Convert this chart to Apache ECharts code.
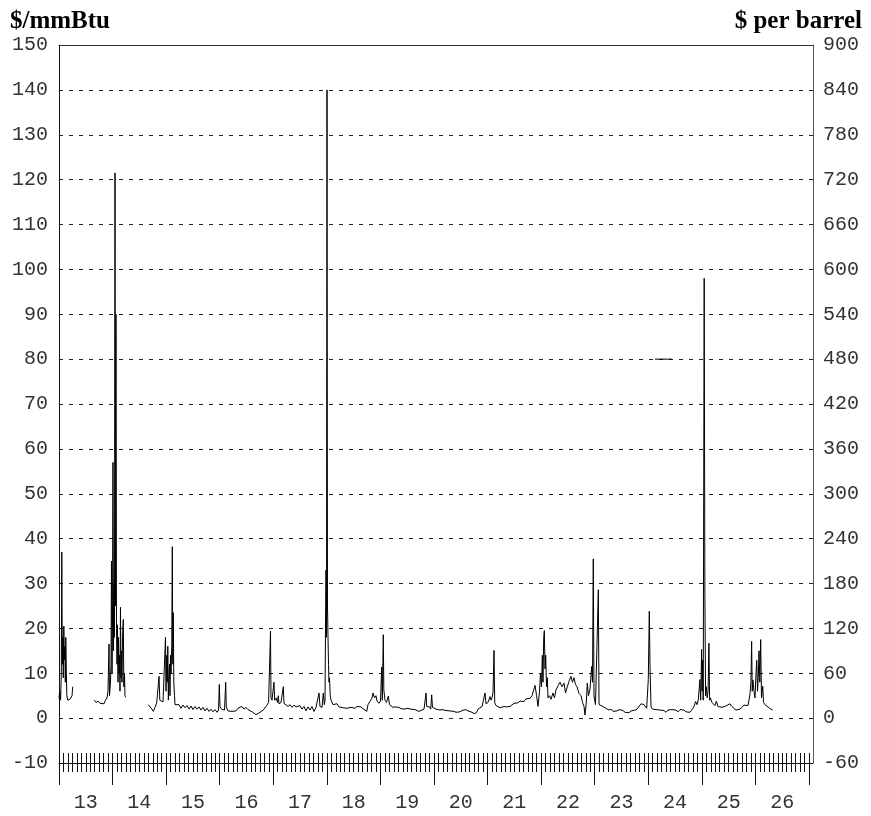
<!DOCTYPE html>
<html>
<head>
<meta charset="utf-8">
<script src="https://cdn.jsdelivr.net/npm/echarts@6/dist/echarts.min.js"></script>
<style>
html,body{margin:0;padding:0;background:#fff;}
#chart{width:871px;height:816px;}
</style>
</head>
<body>
<div id="chart"></div>
<script>
// Dates are decimal years; values in $/mmBtu
const seg2013a = [
  [2013.000,4.5],[2013.015,6],[2013.030,4],[2013.043,10],[2013.052,37],[2013.062,12],[2013.071,18],
  [2013.080,9],[2013.090,20.5],[2013.099,13],[2013.108,16],[2013.118,8],[2013.127,18],[2013.136,11],
  [2013.146,5],[2013.164,4],[2013.187,3.8],[2013.205,4.2],[2013.224,4.5],[2013.243,5],[2013.256,7]
];
const seg2013b = [
  [2013.659,4.0],[2013.690,3.5],[2013.728,3.8],[2013.765,3.3],[2013.802,3.6],[2013.840,3.2],[2013.868,4.0],
  [2013.896,4.5],[2013.914,6],[2013.933,16.5],[2013.942,5],[2013.961,8],[2013.970,12],[2013.979,35],
  [2013.989,10],[2013.998,20],[2014.007,57],[2014.017,15],[2014.026,30],[2014.035,18],[2014.045,121.5],
  [2014.054,25],[2014.063,90],[2014.073,20],[2014.082,12],[2014.091,20.8],[2014.101,8],[2014.110,18],
  [2014.119,10],[2014.129,14],[2014.138,6],[2014.147,24.7],[2014.157,9],[2014.166,15],[2014.175,8],
  [2014.185,18],[2014.200,22],[2014.209,7],[2014.222,10],[2014.231,5],[2014.244,4.6]
];
const y2014 = [
  [2014.666,3.0],[2014.698,2.5],[2014.735,2.0],[2014.759,1.5],[2014.791,2.4],[2014.823,3.4],[2014.847,3.8],
  [2014.866,9.3],[2014.881,4],[2014.903,3.7],[2014.940,3.6],[2014.968,4.0],[2014.987,18],[2014.996,6]
];
const y2015 = [
  [2015.011,14],[2015.020,8],[2015.030,16],[2015.040,4],[2015.052,10],[2015.062,12],[2015.071,5],
  [2015.080,14],[2015.090,10],[2015.103,16],[2015.114,38.2],[2015.123,12],[2015.132,23.5],[2015.142,8],
  [2015.155,5],[2015.164,3.0],[2015.201,2.6],[2015.239,3.0],[2015.276,2.2],[2015.313,2.9],[2015.351,2.3],
  [2015.388,2.8],[2015.425,2.0],[2015.463,2.7],[2015.500,1.9],[2015.537,2.6],[2015.575,2.0],[2015.612,2.5],
  [2015.649,1.8],[2015.687,2.4],[2015.724,1.6],[2015.761,2.2],[2015.799,1.5],[2015.836,2.0],[2015.873,1.4],
  [2015.910,1.9],[2015.948,1.3],[2015.976,1.8],[2015.991,7.5]
];
const y2016 = [
  [2016.004,2.5],[2016.032,2.0],[2016.060,2.4],[2016.088,1.8],[2016.110,8],[2016.121,2.5],[2016.153,1.6],
  [2016.190,1.9],[2016.228,1.5],[2016.265,1.9],[2016.302,1.6],[2016.340,2.2],[2016.377,1.9],[2016.414,2.6],
  [2016.451,2.0],[2016.489,2.4],[2016.526,1.9],[2016.563,2.0],[2016.601,1.4],[2016.638,1.2],[2016.675,0.8],
  [2016.713,1.0],[2016.750,0.9],[2016.787,1.6],[2016.825,2.0],[2016.853,2.3],[2016.881,2.9],[2016.910,3.5],
  [2016.927,3.8],[2016.946,19.4],[2016.955,4.5],[2016.974,4],[2016.993,4.3]
];
const y2017 = [
  [2017.011,8.0],[2017.024,4],[2017.049,4.5],[2017.077,3.5],[2017.091,5.0],[2017.104,3.2],[2017.142,3.5],
  [2017.185,7.0],[2017.198,3.3],[2017.235,3.0],[2017.272,2.6],[2017.310,3.0],[2017.347,2.4],[2017.384,2.9],
  [2017.422,2.5],[2017.459,2.2],[2017.496,2.8],[2017.534,2.0],[2017.571,2.6],[2017.608,1.6],[2017.646,2.5],
  [2017.683,1.8],[2017.720,2.6],[2017.757,1.5],[2017.795,2.4],[2017.832,2.1],[2017.851,5.6],[2017.869,2.6],
  [2017.907,2.4],[2017.931,5.6],[2017.950,3],[2017.963,4],[2017.972,20],[2017.981,33],[2017.991,18]
];
const y2018 = [
  [2018.000,140],[2018.009,25],[2018.019,18],[2018.028,12],[2018.037,8],[2018.047,9],[2018.060,5],
  [2018.075,4],[2018.112,3.0],[2018.149,2.6],[2018.187,3.2],[2018.224,2.5],[2018.261,2.8],[2018.299,2.3],
  [2018.336,2.6],[2018.373,2.2],[2018.410,2.6],[2018.448,2.4],[2018.485,2.5],[2018.522,2.2],[2018.560,2.6],
  [2018.597,2.3],[2018.634,2.5],[2018.672,2.1],[2018.709,2.4],[2018.741,1.5],[2018.765,3.0],[2018.802,3.7],
  [2018.840,4.5],[2018.858,5.6],[2018.886,4.5],[2018.914,5.0],[2018.933,3.8],[2018.970,3.3],[2018.998,3.8]
];
const y2019 = [
  [2019.021,11.4],[2019.032,4],[2019.050,18.6],[2019.060,6.3],[2019.082,4],[2019.110,3.5],[2019.144,4.9],
  [2019.166,3],[2019.194,2.6],[2019.231,2.4],[2019.269,2.5],[2019.306,2.2],[2019.343,2.4],[2019.381,2.1],
  [2019.418,2.3],[2019.455,2.0],[2019.493,2.2],[2019.530,1.9],[2019.567,2.0],[2019.604,1.7],[2019.642,1.9],
  [2019.679,1.6],[2019.716,1.5],[2019.735,1.2],[2019.772,1.8],[2019.810,2.0],[2019.847,5.6],[2019.860,2.6],
  [2019.884,2.2],[2019.912,2.5],[2019.935,2.0],[2019.953,5.2],[2019.968,2.4],[2019.996,2.3]
];
const y2020 = [
  [2020.034,2.0],[2020.071,2.2],[2020.108,1.8],[2020.146,1.9],[2020.183,1.6],[2020.220,1.7],[2020.257,1.5],
  [2020.295,1.6],[2020.332,1.4],[2020.369,1.5],[2020.407,1.3],[2020.444,1.6],[2020.481,1.4],[2020.519,1.7],
  [2020.556,1.5],[2020.593,1.9],[2020.631,1.6],[2020.668,1.5],[2020.705,1.3],[2020.743,1.0],[2020.761,0.8],
  [2020.789,1.2],[2020.817,2.0],[2020.854,2.2],[2020.892,2.6],[2020.920,3.0],[2020.948,5.6],[2020.966,3.2]
];
const y2021 = [
  [2021.004,3.5],[2021.041,4.8],[2021.060,4.0],[2021.078,4.5],[2021.097,5.6],[2021.116,15.1],[2021.129,3.4],
  [2021.153,2.8],[2021.190,2.5],[2021.228,2.3],[2021.265,2.4],[2021.302,2.6],[2021.340,2.5],[2021.377,2.8],
  [2021.414,2.6],[2021.451,3.0],[2021.489,3.3],[2021.526,3.5],[2021.563,3.4],[2021.601,3.8],[2021.638,4.0],
  [2021.675,3.7],[2021.713,4.3],[2021.750,4.6],[2021.787,4.4],[2021.825,5.0],[2021.853,4.6],[2021.881,7.3],
  [2021.910,5],[2021.937,2.6],[2021.965,6],[2021.983,10]
];
const y2022 = [
  [2022.002,7],[2022.017,14],[2022.030,8],[2022.043,18],[2022.055,19.5],[2022.067,11],[2022.080,14],
  [2022.095,7],[2022.110,9],[2022.123,4.5],[2022.151,5.0],[2022.179,4.2],[2022.203,4.0],[2022.216,5.6],
  [2022.244,4.5],[2022.272,6.3],[2022.310,7.2],[2022.347,8.0],[2022.384,7.0],[2022.422,7.8],[2022.450,5.6],
  [2022.478,6.8],[2022.515,8.2],[2022.552,9.3],[2022.580,8.0],[2022.608,9.0],[2022.636,7.5],[2022.664,7.0],
  [2022.701,5.5],[2022.739,5.0],[2022.767,3.5],[2022.795,2.6],[2022.813,0.7],[2022.838,3.5],[2022.856,7.8],
  [2022.878,5],[2022.907,6.5],[2022.938,11.5],[2022.953,8],[2022.968,35.5],[2022.981,5]
];
const y2023 = [
  [2023.009,3.0],[2023.032,2.6],[2023.062,28.6],[2023.075,3.0],[2023.112,2.8],[2023.149,2.6],[2023.187,2.3],
  [2023.224,2.1],[2023.261,1.8],[2023.299,2.0],[2023.336,1.5],[2023.373,1.8],[2023.410,1.6],[2023.448,1.9],
  [2023.485,1.5],[2023.522,1.7],[2023.560,1.3],[2023.597,1.5],[2023.634,1.2],[2023.672,1.6],[2023.709,1.4],
  [2023.746,1.8],[2023.784,2.0],[2023.821,2.3],[2023.858,3.2],[2023.890,3.6],[2023.914,3.0],[2023.942,3.4],
  [2023.964,2.2],[2023.994,8.6]
];
const y2024 = [
  [2024.013,23.8],[2024.026,11.7],[2024.045,2.5],[2024.073,2.0],[2024.101,1.6],[2024.138,1.9],[2024.175,1.5],
  [2024.213,1.8],[2024.250,1.4],[2024.287,1.7],[2024.325,1.3],[2024.362,1.8],[2024.399,1.5],[2024.437,1.9],
  [2024.474,1.6],[2024.511,1.8],[2024.549,1.4],[2024.586,1.9],[2024.623,1.6],[2024.660,1.8],[2024.698,1.4],
  [2024.735,1.7],[2024.772,1.3],[2024.810,1.9],[2024.847,2.6],[2024.875,3.7],[2024.903,3.0],[2024.929,4.2],
  [2024.957,8.6],[2024.972,4],[2024.989,15.3],[2024.998,6]
];
const y2025 = [
  [2025.007,12.9],[2025.019,4],[2025.037,98],[2025.050,27.6],[2025.063,5],[2025.078,7],[2025.093,4.5],
  [2025.110,6],[2025.125,16.7],[2025.138,4],[2025.153,4.5],[2025.181,3.5],[2025.209,3.3],[2025.237,2.8],
  [2025.265,3.8],[2025.293,2.6],[2025.330,3.0],[2025.368,2.4],[2025.405,2.2],[2025.442,2.7],[2025.479,2.4],
  [2025.517,3.2],[2025.554,2.6],[2025.591,2.4],[2025.629,1.8],[2025.666,1.6],[2025.703,2.0],[2025.741,2.4],
  [2025.778,2.9],[2025.815,3.2],[2025.854,2.8],[2025.877,3.0],[2025.890,5.2],[2025.909,8],[2025.922,17.1],
  [2025.933,6],[2025.946,8.5],[2025.966,6],[2025.985,4.5]
];
const y2026 = [
  [2026.000,9],[2026.017,12.9],[2026.032,6],[2026.045,9],[2026.060,15],[2026.075,8],[2026.091,17.5],
  [2026.106,4.5],[2026.129,7.1],[2026.144,3.5],[2026.172,3.0],[2026.209,2.6],[2026.246,2.3],[2026.284,2.0],
  [2026.315,1.8]
];
const stray2024 = [[2024.119,80],[2024.431,80]];

const leftTicks = {min:-10, max:150, step:10};
const rightTicks = {min:-60, max:900, step:60};
const yearSpan = {start:2013, end:2027};

const gasSeries = [].concat(
  seg2013a, [[2013.4, null]],
  seg2013b, [[2014.45, null]],
  y2014, y2015, y2016, y2017, y2018, y2019, y2020, y2021, y2022, y2023, y2024, y2025, y2026
);

const tickFont = {fontFamily:'Liberation Mono', fontSize:20, color:'#333'};
const titleFont = {fontFamily:'Liberation Serif', fontWeight:'bold', fontSize:25, color:'#000'};
const chart = echarts.init(document.getElementById('chart'), null, {renderer:'canvas'});
chart.setOption({
  animation:false,
  backgroundColor:'#fff',
  title:[
    {text:'$/mmBtu', left:5, top:4, textStyle:titleFont},
    {text:'$ per barrel', right:4, top:4, textStyle:titleFont}
  ],
  grid:[
    {left:59, right:58, top:45, bottom:53, show:false},
    {left:59, right:62, top:45, bottom:53, show:false}
  ],
  xAxis:[
    {gridIndex:0, type:'value', position:'bottom', min:yearSpan.start, max:2027.067,
     axisLine:{show:true, onZero:false, lineStyle:{color:'#111', width:1}}, axisTick:{show:false}, axisLabel:{show:false}, splitLine:{show:false}},
    {gridIndex:0, type:'value', position:'top', min:yearSpan.start, max:2027.067,
     axisLine:{show:true, onZero:false, lineStyle:{color:'#333', width:1}}, axisTick:{show:false}, axisLabel:{show:false}, splitLine:{show:false}},
    {gridIndex:1, type:'value', position:'bottom', offset:0, min:yearSpan.start, max:yearSpan.end, interval:1,
     axisLine:{show:false}, axisTick:{show:true, inside:true, length:10, lineStyle:{color:'#111', width:1}},
     minorTick:{show:true, splitNumber:12, length:10, lineStyle:{color:'#111', width:1}},
     axisLabel:{show:false}, splitLine:{show:false}},
    {gridIndex:1, type:'value', position:'bottom', offset:0, min:yearSpan.start, max:yearSpan.end, interval:1,
     axisLine:{show:false}, axisTick:{show:true, inside:false, length:22, lineStyle:{color:'#111', width:1}},
     minorTick:{show:true, splitNumber:12, length:9, lineStyle:{color:'#111', width:1}},
     axisLabel:{show:false}, splitLine:{show:false}},
    {gridIndex:1, type:'value', position:'bottom', offset:0, min:yearSpan.start, max:yearSpan.end, interval:0.5,
     axisLine:{show:false}, axisTick:{show:false}, splitLine:{show:false},
     axisLabel:Object.assign({show:true, margin:30, formatter:function(v){
        const f = v - Math.floor(v);
        return Math.abs(f-0.5) < 1e-6 ? String(Math.floor(v)).slice(2) : '';
     }}, tickFont)}
  ],
  yAxis:[
    {gridIndex:0, type:'value', position:'left', min:leftTicks.min, max:leftTicks.max, interval:leftTicks.step,
     axisLine:{show:true, lineStyle:{color:'#111', width:1}}, axisTick:{show:false},
     axisLabel:Object.assign({margin:11}, tickFont),
     splitLine:{show:true, showMinLine:false, showMaxLine:false, lineStyle:{color:'#222', width:1, type:[4,6]}}},
    {gridIndex:0, type:'value', position:'right', min:rightTicks.min, max:rightTicks.max, interval:rightTicks.step,
     axisLine:{show:true, lineStyle:{color:'#555', width:1}}, axisTick:{show:false},
     axisLabel:Object.assign({margin:10}, tickFont),
     splitLine:{show:false}},
    {gridIndex:1, type:'value', min:0, max:1, show:false}
  ],
  series:[
    {type:'line', xAxisIndex:0, yAxisIndex:0, data:gasSeries, showSymbol:false, connectNulls:false,
     lineStyle:{color:'#000', width:1}, silent:true},
    {type:'line', xAxisIndex:0, yAxisIndex:0, data:stray2024, showSymbol:false,
     lineStyle:{color:'#000', width:1}, silent:true}
  ]
});
</script>
</body>
</html>
